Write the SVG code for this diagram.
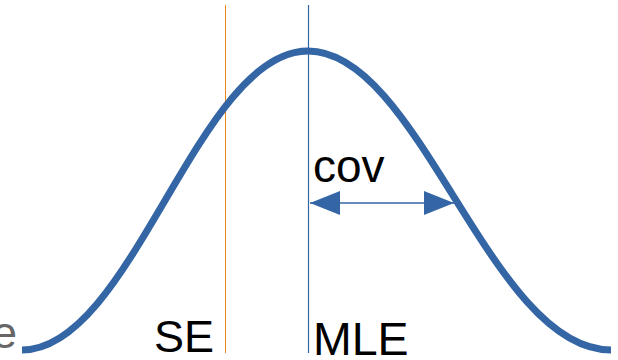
<svg xmlns="http://www.w3.org/2000/svg" width="618" height="360" viewBox="0 0 618 360">
<style>
.lbl{font-family:"Liberation Sans",Arial,sans-serif;fill:#000}
</style>
<defs>
<marker id="ah" viewBox="0 0 30 24" refX="30" refY="12" markerWidth="30" markerHeight="24" markerUnits="userSpaceOnUse" orient="auto-start-reverse">
<path d="M0,0 L30,12 L0,24 Z" fill="#3465a4"/>
</marker>
</defs>
<rect width="618" height="360" fill="#fff"/>
<g id="connectors">
<line x1="225.5" y1="5" x2="225.5" y2="353" stroke="#e8871e" stroke-width="1"/>
<line x1="308.5" y1="5" x2="308.5" y2="353" stroke="#3465a4" stroke-width="1.2"/>
<line x1="310" y1="203" x2="454" y2="203" stroke="#3465a4" stroke-width="1.5" marker-start="url(#ah)" marker-end="url(#ah)"/>
</g>
<g id="curve">
<path d="M22,350 C132,350 198,51 308,51 C420,51 490,350 611,350" fill="none" stroke="#3465a4" stroke-width="7"/>
</g>
<g id="labels">
<text x="17" y="348" class="lbl" font-size="45" text-anchor="end" style="fill:#666">e</text>
<text x="154" y="352" class="lbl" font-size="45">SE</text>
<text x="313" y="355" class="lbl" font-size="46.5">MLE</text>
<text x="313" y="182" class="lbl" font-size="46">cov</text>
</g>
</svg>
